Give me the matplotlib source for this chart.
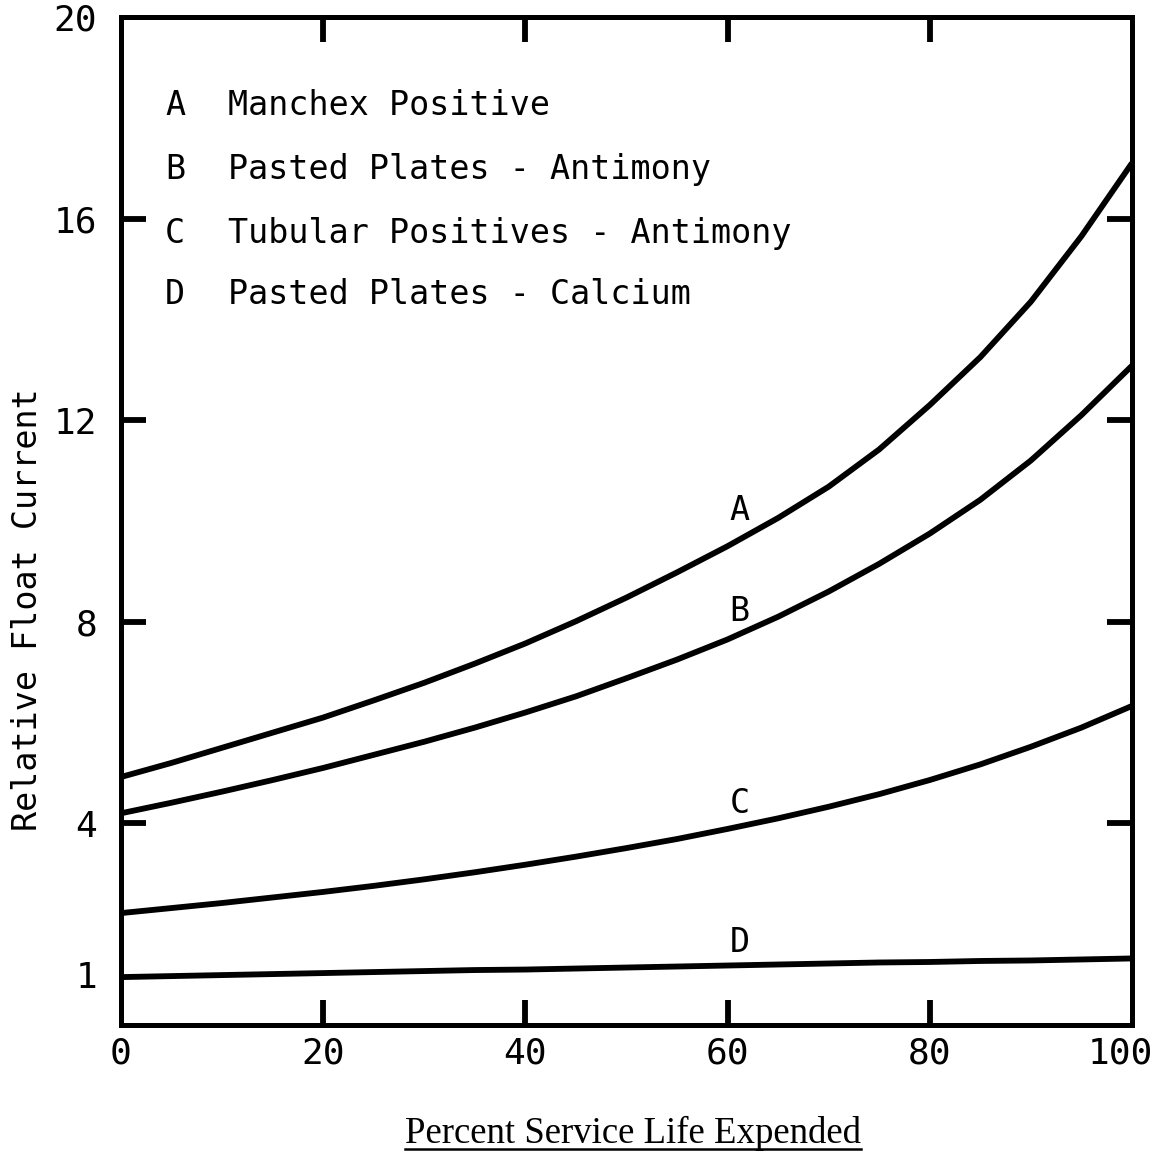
import matplotlib
matplotlib.use("Agg")
import matplotlib.pyplot as plt
from matplotlib.lines import Line2D
from matplotlib.transforms import ScaledTranslation

plt.rcParams['font.family'] = ['DejaVu Sans Mono']

# percent service life expended
life = [0, 5, 10, 15, 20, 25, 30, 35, 40, 45, 50,
        55, 60, 65, 70, 75, 80, 85, 90, 95, 100]

# relative float current
curve_a = [4.92, 5.20, 5.50, 5.80, 6.10, 6.44, 6.79, 7.17, 7.57, 8.01, 8.48,
           8.98, 9.50, 10.06, 10.68, 11.42, 12.30, 13.25, 14.35, 15.65, 17.10]
curve_b = [4.20, 4.41, 4.63, 4.86, 5.10, 5.36, 5.62, 5.90, 6.20, 6.52, 6.88,
           7.25, 7.65, 8.10, 8.60, 9.15, 9.75, 10.42, 11.20, 12.10, 13.08]
curve_c = [2.22, 2.32, 2.42, 2.53, 2.64, 2.76, 2.89, 3.03, 3.18, 3.34, 3.51,
           3.69, 3.89, 4.10, 4.33, 4.58, 4.86, 5.17, 5.52, 5.90, 6.33]
curve_d = [0.95, 0.97, 0.99, 1.01, 1.03, 1.05, 1.07, 1.09, 1.10, 1.12, 1.14,
           1.16, 1.18, 1.20, 1.22, 1.24, 1.25, 1.27, 1.28, 1.30, 1.32]

letters = ['A', 'B', 'C', 'D']
names = ['Manchex Positive',
         'Pasted Plates - Antimony',
         'Tubular Positives - Antimony',
         'Pasted Plates - Calcium']

xticks = [0, 20, 40, 60, 80, 100]
yticks = [1, 4, 8, 12, 16, 20]

fig = plt.figure(figsize=(11.52, 11.54), dpi=100)
ax = fig.add_axes([0.1050, 0.1118, 0.8776, 0.8735])

for ys in (curve_a, curve_b, curve_c, curve_d):
    ax.plot(life, ys, color='black', lw=4.2, solid_capstyle='butt')

# curve letters
ax.text(61.2, 10.2, 'A', ha='center', va='center', fontsize=24)
ax.text(61.2, 8.2, 'B', ha='center', va='center', fontsize=24)
ax.text(61.2, 4.4, 'C', ha='center', va='center', fontsize=24)
ax.text(61.2, 1.64, 'D', ha='center', va='center', fontsize=24)

# key in upper left
key_y = [18.25, 16.98, 15.7, 14.5]
for letter, name, yk in zip(letters, names, key_y):
    ax.text(4.35, yk, letter, ha='left', va='center', fontsize=24)
    ax.text(10.6, yk, name, ha='left', va='center', fontsize=24)

ax.set_xlim(0, 100)
ax.set_ylim(0, 20)
ax.set_xticks(xticks)
ax.set_xticklabels([str(v) for v in xticks])
ax.set_yticks(yticks)
ax.set_yticklabels([str(v) for v in yticks])

ax.tick_params(axis='both', direction='in', length=18, width=4.2,
               labelsize=26, top=True, right=True)
ax.tick_params(axis='y', pad=17)
ax.tick_params(axis='x', pad=8)

# no tick marks at the ends, only labels
for t in ax.xaxis.get_major_ticks():
    if t.get_loc() in (0, 100):
        t.tick1line.set_visible(False)
        t.tick2line.set_visible(False)
for t in ax.yaxis.get_major_ticks():
    if t.get_loc() in (1, 20):
        t.tick1line.set_visible(False)
        t.tick2line.set_visible(False)
last = ax.get_xticklabels()[-1]
last.set_transform(last.get_transform()
                   + ScaledTranslation(-0.12, 0, fig.dpi_scale_trans))

for s in ax.spines.values():
    s.set_linewidth(3.6)

fig.text(28 / 1152, 1 - 610 / 1154, 'Relative Float Current', rotation=90,
         ha='center', va='center', fontsize=24)

xl = fig.text(633 / 1152, 1 - 1143 / 1154, 'Percent Service Life Expended',
              ha='center', va='baseline', fontsize=26.5, family='Liberation Serif')

# underline the x label
fig.canvas.draw()
bb = xl.get_window_extent().transformed(fig.transFigure.inverted())
uy = 1 - 1149 / 1154
fig.add_artist(Line2D([bb.x0, bb.x1], [uy, uy], color='black', lw=1.8,
                      transform=fig.transFigure))

fig.savefig('out.png', dpi=100)
